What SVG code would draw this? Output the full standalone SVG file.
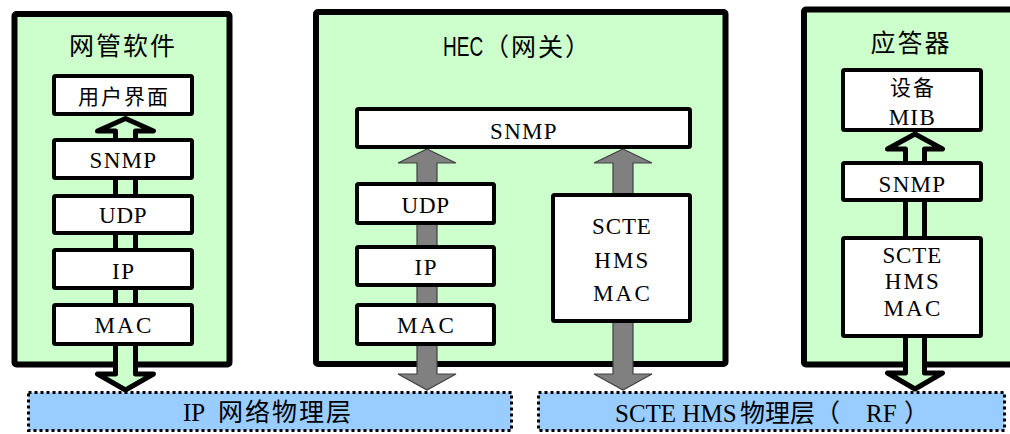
<svg xmlns="http://www.w3.org/2000/svg" width="1010" height="434" viewBox="0 0 1010 434">
<style>
.panel{fill:#CCFFCC;stroke:#000;stroke-width:6;stroke-linejoin:round}
.box{fill:#fff;stroke:#000;stroke-width:4;stroke-linejoin:round}
.bar{fill:#99CCFF;stroke:#000;stroke-width:3;stroke-dasharray:3 3}
.hollow{fill:#CCFFCC;stroke:#000;stroke-width:5;stroke-linejoin:round}
.gray{fill:#808080;stroke:#404040;stroke-width:1.2;stroke-linejoin:miter}
.lbl{font-family:"Liberation Serif",serif;font-size:23px;fill:#000}
.c{font-family:"Noto Sans CJK SC","Noto Sans",sans-serif;font-size:21px;letter-spacing:2px;text-anchor:middle;fill:#000}
.title{font-family:"Noto Sans CJK SC","Noto Sans",sans-serif;font-size:25px;letter-spacing:2px;fill:#000}
.bs{font-family:"Liberation Serif",serif;font-size:25px;fill:#000}
.bc{font-family:"Noto Sans CJK SC","Noto Sans",sans-serif;font-size:25px;fill:#000}
</style>

<!-- panels -->
<g id="panel-nms">
  <rect class="panel" x="14.5" y="14" width="215" height="350.5" rx="2"/>
  <text class="title" x="123" y="55" text-anchor="middle">网管软件</text>
</g>
<g id="panel-hec">
  <rect class="panel" x="316" y="12" width="409.5" height="352" rx="2"/>
  <text transform="translate(443,56) scale(0.68,1)" font-family="Liberation Sans, sans-serif" font-size="28" fill="#000">HEC</text>
  <text class="title" x="484" y="56">（网关）</text>
</g>
<g id="panel-transponder">
  <rect class="panel" x="804" y="9.5" width="220" height="355" rx="2"/>
  <text class="title" x="911" y="52" text-anchor="middle">应答器</text>
</g>

<!-- bottom bars -->
<g id="bar-ip">
  <rect class="bar" x="28.5" y="392.5" width="483" height="38"/>
  <text class="bs" x="183" y="421">IP</text>
  <text class="bc" x="218" y="421" letter-spacing="2">网络物理层</text>
</g>
<g id="bar-hms">
  <rect class="bar" x="538.5" y="392.5" width="466" height="38"/>
  <text class="bs" x="615" y="422" font-size="24">SCTE HMS</text>
  <text class="bc" x="740" y="422">物理层（</text>
  <text class="bs" x="866" y="422">RF</text>
  <text class="bc" x="904" y="422">）</text>
</g>

<!-- connectors -->
<g id="connectors">
  <path class="hollow" d="M125.5,118.5 L153.5,131 L135.5,131 L135.5,374 L153.5,374 L125.5,390 L97.5,374 L115.5,374 L115.5,131 L97.5,131 Z"/>
  <path class="gray" d="M427,149 L456,163 L437,163 L437,374 L456,374 L427,390 L398,374 L417,374 L417,163 L398,163 Z"/>
  <path class="gray" d="M623,149 L652,163 L633,163 L633,374 L652,374 L623,390 L594,374 L613,374 L613,163 L594,163 Z"/>
  <path class="hollow" d="M915,134 L942.5,149 L924.5,149 L924.5,373 L942.5,373 L915,389 L887.5,373 L905.5,373 L905.5,149 L887.5,149 Z"/>
</g>

<!-- left stack -->
<g id="nms-ui">
  <rect class="box" x="54" y="76" width="138" height="38" rx="1.5"/>
  <text class="c" x="124" y="104">用户界面</text>
</g>
<g id="nms-snmp">
  <rect class="box" x="54" y="140" width="138" height="38" rx="1.5"/>
  <text class="lbl" x="89.5 103.7 121.6 143.2" y="168">SNMP</text>
</g>
<g id="nms-udp">
  <rect class="box" x="54" y="196" width="138" height="37" rx="1.5"/>
  <text class="lbl" x="99 116.4 133.8" y="223">UDP</text>
</g>
<g id="nms-ip">
  <rect class="box" x="54" y="250" width="138" height="38" rx="1.5"/>
  <text class="lbl" x="112 121.3" y="279">IP</text>
</g>
<g id="nms-mac">
  <rect class="box" x="54" y="305" width="138" height="39" rx="1.5"/>
  <text class="lbl" x="94.5 117.1 135.9" y="333">MAC</text>
</g>

<!-- middle -->
<g id="hec-snmp">
  <rect class="box" x="357" y="109" width="333" height="38" rx="1.5"/>
  <text class="lbl" x="490 504.2 522.1 543.7" y="139">SNMP</text>
</g>
<g id="hec-udp">
  <rect class="box" x="357" y="184" width="137" height="39" rx="1.5"/>
  <text class="lbl" x="401.5 418.9 436.3" y="213">UDP</text>
</g>
<g id="hec-ip">
  <rect class="box" x="357" y="247" width="137" height="38" rx="1.5"/>
  <text class="lbl" x="414.5 423.8" y="275">IP</text>
</g>
<g id="hec-mac">
  <rect class="box" x="357" y="305" width="137" height="39" rx="1.5"/>
  <text class="lbl" x="397 419.6 438.4" y="333">MAC</text>
</g>
<g id="hec-hms">
  <rect class="box" x="553" y="195" width="137" height="126" rx="1.5"/>
  <text class="lbl" x="592 605.7 621.9 636.8" y="234">SCTE</text>
  <text class="lbl" x="594.2 613.1 635.6" y="268">HMS</text>
  <text class="lbl" x="593 615.6 634.4" y="301">MAC</text>
</g>

<!-- right -->
<g id="tr-mib">
  <rect class="box" x="843" y="70" width="138" height="60" rx="1.5"/>
  <text class="c" x="913" y="95">设备</text>
  <text class="lbl" x="888.7 910.3 919.6" y="125">MIB</text>
</g>
<g id="tr-snmp">
  <rect class="box" x="843" y="163" width="138" height="37" rx="1.5"/>
  <text class="lbl" x="878.5 892.7 910.6 932.2" y="192">SNMP</text>
</g>
<g id="tr-hms">
  <rect class="box" x="843" y="238" width="138" height="98" rx="1.5"/>
  <text class="lbl" x="882.4 896.1 912.3 927.2" y="263">SCTE</text>
  <text class="lbl" x="884.7 903.6 926.1" y="289">HMS</text>
  <text class="lbl" x="883.5 906.1 924.9" y="316">MAC</text>
</g>
</svg>
